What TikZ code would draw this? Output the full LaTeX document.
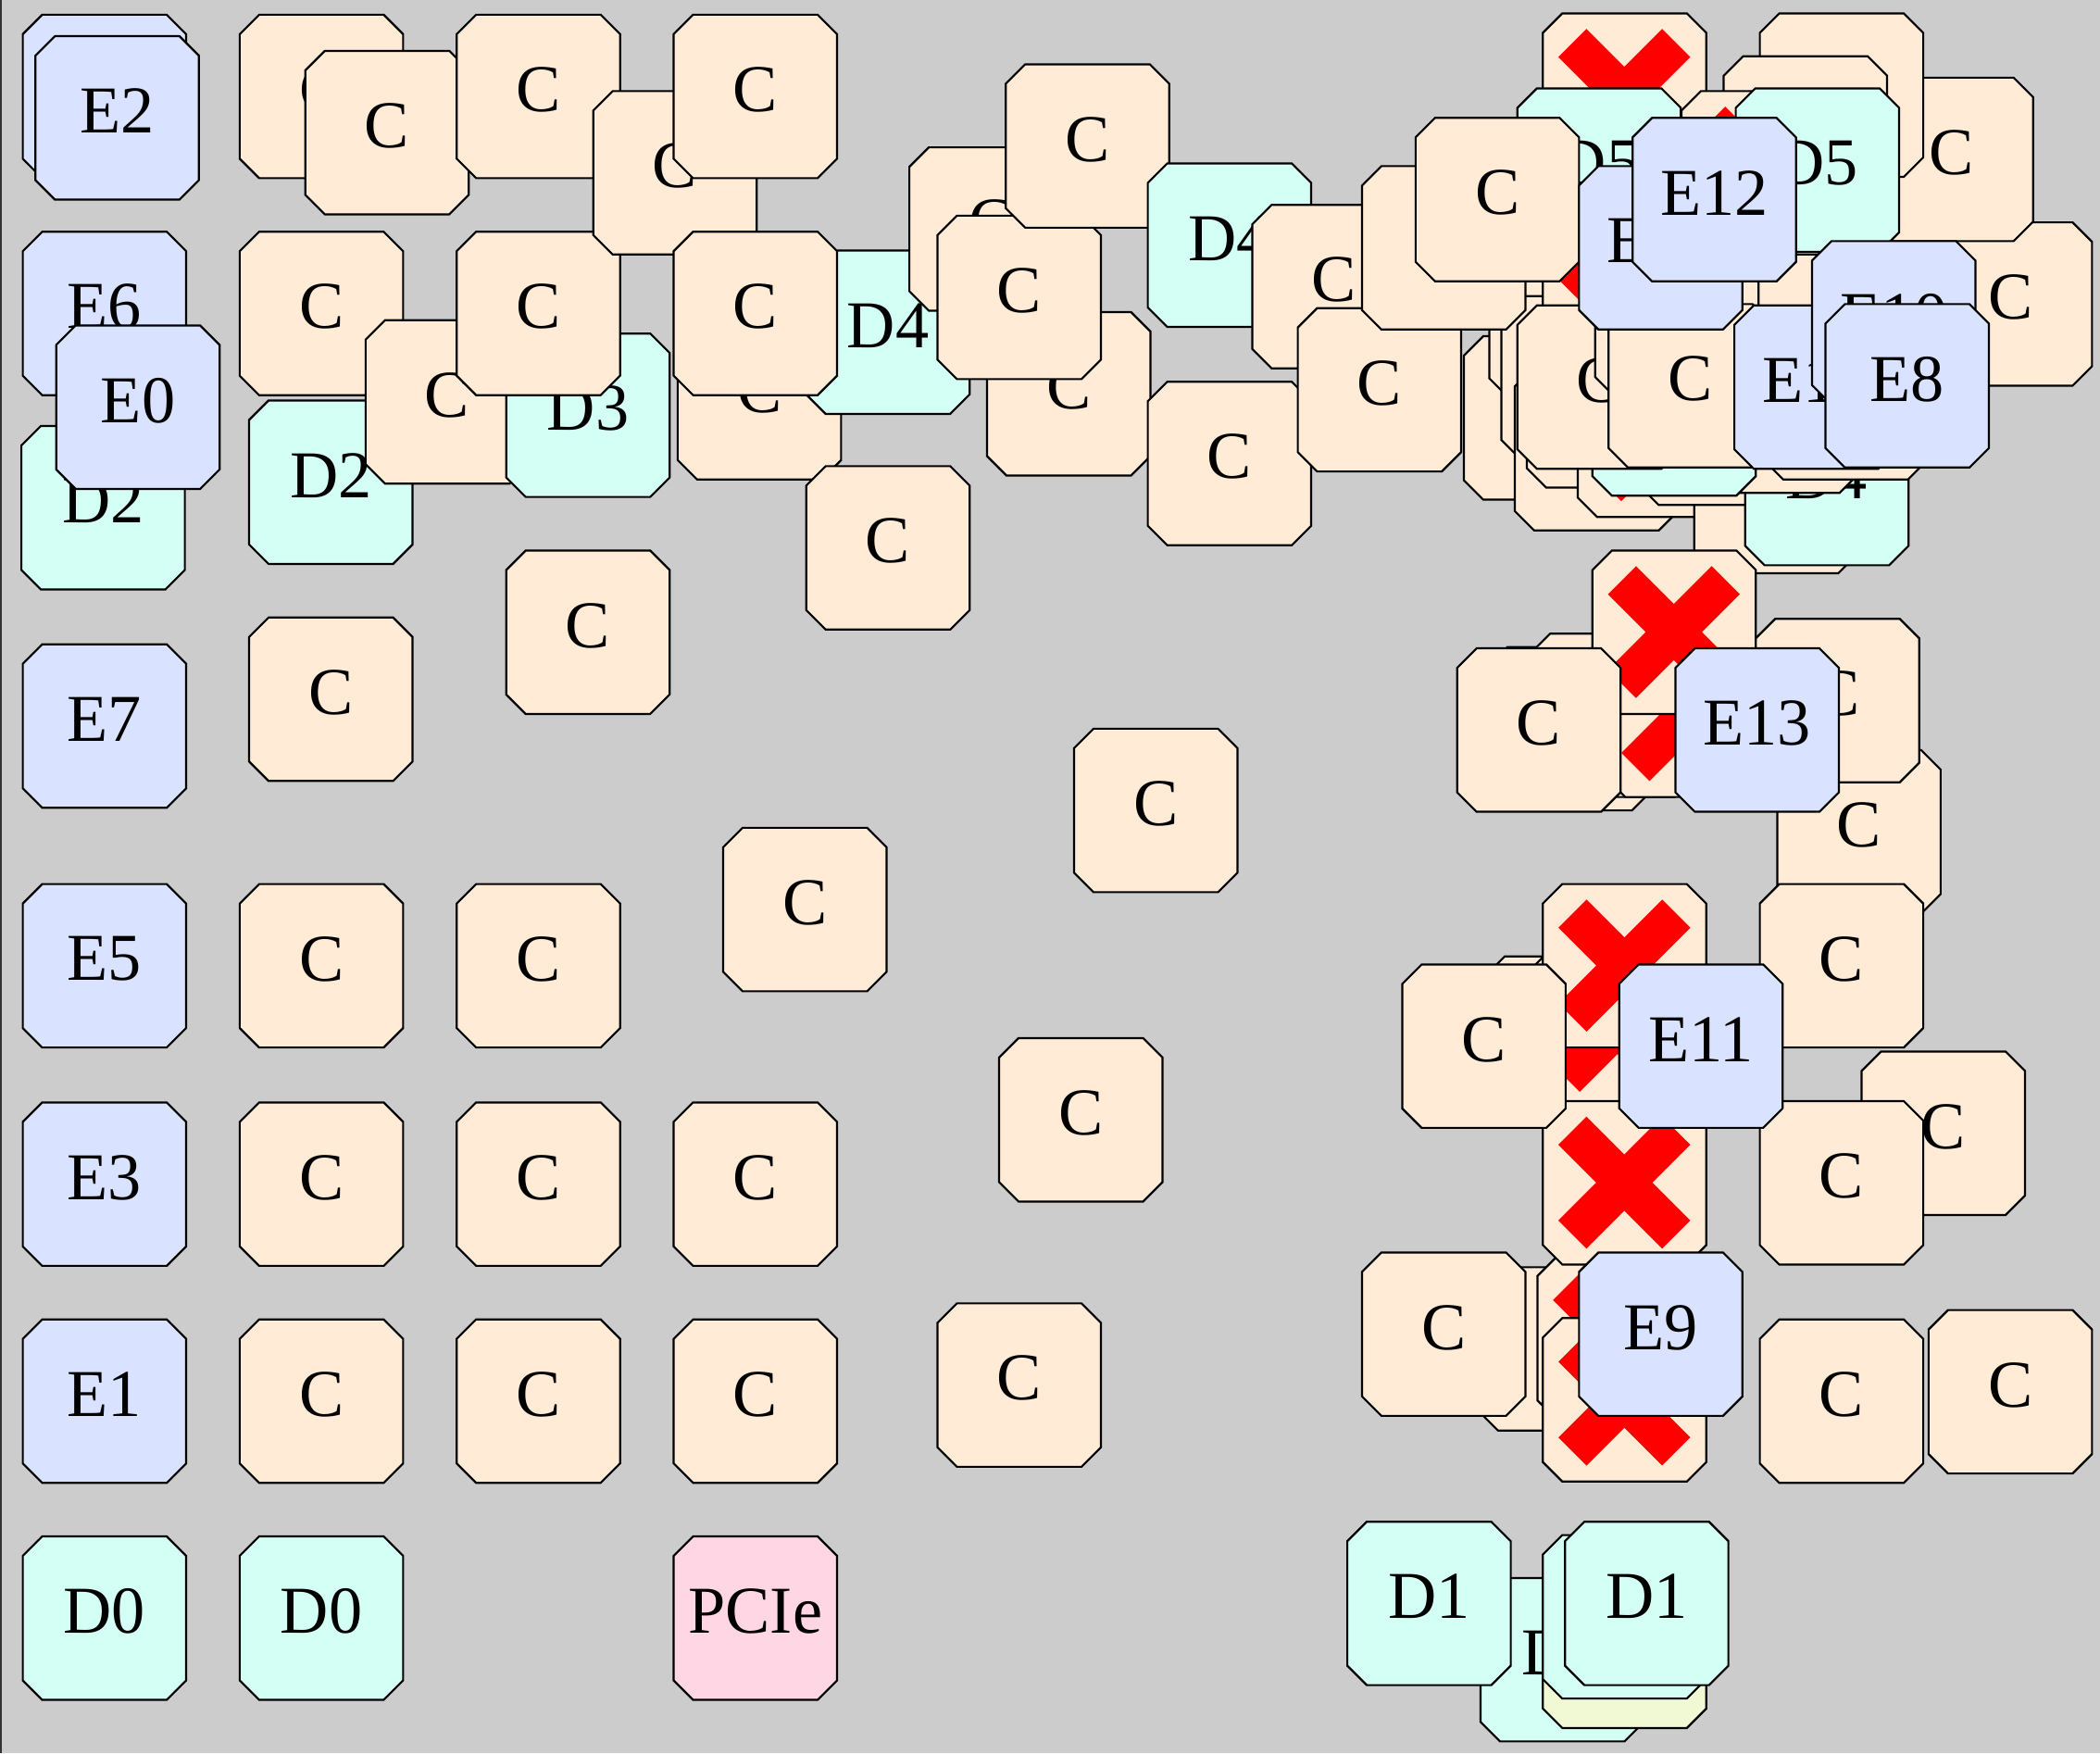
\documentclass[tikz,border=0pt]{standalone}
\usepackage{fontspec}
\setmainfont{Liberation Serif}
\definecolor{bgc}{RGB}{204,204,204}
\definecolor{cbeige}{RGB}{255,235,214}
\definecolor{eblue}{RGB}{217,227,255}
\definecolor{dcyan}{RGB}{212,255,245}
\definecolor{ppink}{RGB}{255,214,228}
\definecolor{yyel}{RGB}{240,248,212}
\tikzset{
  tileline/.style={draw=black, line width=1.5pt},
  cfill/.style={fill=cbeige},
  efill/.style={fill=eblue},
  dfill/.style={fill=dcyan},
  pfill/.style={fill=ppink},
  yfill/.style={fill=yyel},
  lbl/.style={inner sep=0pt, font=\fontsize{50}{60}\selectfont},
  xmark/.style={draw=red, line width=29.7pt},
}
\newcommand\mytile[5]{%
  \begin{scope}[shift={(#2,#3)}]
    \path[tileline,#4] (14.5,0) -- (107.5,0) -- (122,14.5) -- (122,107.5) -- (107.5,122) -- (14.5,122) -- (0,107.5) -- (0,14.5) -- cycle;
    \node[lbl] (#1) at (61,56) {#5};
  \end{scope}}
\newcommand\myxtile[3]{%
  \begin{scope}[shift={(#2,#3)}]
    \path[tileline,cfill] (14.5,0) -- (107.5,0) -- (122,14.5) -- (122,107.5) -- (107.5,122) -- (14.5,122) -- (0,107.5) -- (0,14.5) -- cycle;
    \draw[xmark] (22.1,22.1) -- (99.6,99.6) (99.6,22.1) -- (22.1,99.6);
    \coordinate (#1) at (61,61);
  \end{scope}}
\begin{document}
\begin{tikzpicture}[x=1pt,y=-1pt]
\path[fill=bgc] (0,0) rectangle (1568,1309);
\useasboundingbox (0,0) rectangle (1568,1309);
\draw[line width=1.5pt, black!80] (0.75,0) -- (0.75,1309);
% left column
\mytile{e2b}{17}{11}{efill}{}
\mytile{e2}{26.5}{27}{efill}{E2}
\mytile{e6}{17}{173}{efill}{E6}
\mytile{d2a}{16}{318}{dfill}{D2}
\mytile{e0}{42}{243}{efill}{E0}
\mytile{e7}{17}{481}{efill}{E7}
\mytile{e5}{17}{660}{efill}{E5}
\mytile{e3}{17}{823}{efill}{E3}
\mytile{e1}{17}{985}{efill}{E1}
\mytile{d0a}{17}{1147}{dfill}{D0}
\mytile{d0b}{179}{1147}{dfill}{D0}
% second column
\mytile{c01}{179}{11}{cfill}{C}
\mytile{c02}{228}{38}{cfill}{C}
\mytile{c03}{179}{173}{cfill}{C}
\mytile{d2b}{186}{299}{dfill}{D2}
\mytile{c04}{273}{239}{cfill}{C}
\mytile{d3}{378}{249}{dfill}{D3}
\mytile{c05}{186}{461}{cfill}{C}
\mytile{c06}{179}{660}{cfill}{C}
\mytile{c07}{179}{823}{cfill}{C}
\mytile{c08}{179}{985}{cfill}{C}
% third and fourth columns
\mytile{c09}{341}{11}{cfill}{C}
\mytile{c10}{341}{173}{cfill}{C}
\mytile{c11}{443}{68}{cfill}{C}
\mytile{c12}{503}{11}{cfill}{C}
\mytile{c13}{506}{236}{cfill}{C}
\mytile{d4a}{602}{187}{dfill}{D4}
\mytile{c14}{503}{173}{cfill}{C}
\mytile{c15}{378}{411}{cfill}{C}
\mytile{c16}{341}{660}{cfill}{C}
\mytile{c17}{341}{823}{cfill}{C}
\mytile{c18}{341}{985}{cfill}{C}
\mytile{c19}{602}{348}{cfill}{C}
\mytile{c20}{540}{618}{cfill}{C}
\mytile{c21}{503}{823}{cfill}{C}
\mytile{c22}{503}{985}{cfill}{C}
\mytile{pcie}{503}{1147}{pfill}{PCIe}
\mytile{c23}{802}{544}{cfill}{C}
\mytile{c24}{746}{775}{cfill}{C}
\mytile{c25}{700}{973}{cfill}{C}
% middle top
\mytile{c26}{679}{110}{cfill}{C}
\mytile{c27}{737}{233}{cfill}{C}
\mytile{c28}{700}{161}{cfill}{C}
\mytile{c29}{751}{48}{cfill}{C}
\mytile{d4b}{857}{122}{dfill}{D4}
\mytile{c30}{857}{285}{cfill}{C}
\mytile{c31}{935}{153}{cfill}{C}
\mytile{c32}{969}{230}{cfill}{C}
\mytile{c33}{1093}{251}{cfill}{}
\mytile{c34}{1112}{175}{cfill}{}
\mytile{c35}{1121}{221}{cfill}{}
\myxtile{x1}{1152}{176}
\mytile{c36}{1017}{124}{cfill}{C}
% top right
\mytile{c37}{1440}{166}{cfill}{C}
\mytile{c38}{1396}{58}{cfill}{C}
\mytile{c39}{1314}{10}{cfill}{}
\mytile{c40}{1287}{42}{cfill}{}
\mytile{c41}{1280}{155}{cfill}{}
\myxtile{x2}{1152}{10}
\mytile{d5a}{1133}{66}{dfill}{D5}
\myxtile{x3}{1255.5}{68}
\mytile{d5b}{1296}{66}{dfill}{D5}
\mytile{c42}{1131}{274}{cfill}{}
\mytile{c43}{1140}{242}{cfill}{}
\myxtile{x4}{1178}{264}
\mytile{c44}{1265}{306}{cfill}{}
\mytile{c45}{1224}{255}{cfill}{}
\mytile{d4c}{1303}{300}{dfill}{D4}
\mytile{c46}{1266}{246}{cfill}{}
\mytile{c47}{1317}{236}{cfill}{}
\mytile{d4d}{1189}{248}{dfill}{}
\mytile{c48}{1133}{228}{cfill}{C}
\mytile{c49}{1191}{174}{cfill}{}
\mytile{c50}{1201}{227}{cfill}{C}
\mytile{c51}{1057}{88}{cfill}{C}
\mytile{e15}{1179}{124}{efill}{E15}
\mytile{e12}{1219}{88}{efill}{E12}
\mytile{e14}{1295}{228}{efill}{E14}
\mytile{e10}{1353}{180}{efill}{E10}
\mytile{e8}{1363}{227}{efill}{E8}
% right middle
\mytile{c52}{1111}{483}{cfill}{}
\mytile{c53}{1143}{473}{cfill}{}
\myxtile{x5}{1199}{473}
\myxtile{x6}{1189}{411}
\mytile{c54}{1088}{484}{cfill}{C}
\mytile{c55}{1327}{560}{cfill}{C}
\mytile{c56}{1311}{462}{cfill}{C}
\mytile{e13}{1251}{484}{efill}{E13}
\mytile{c57}{1314}{660}{cfill}{C}
\mytile{c58}{1109}{714}{cfill}{}
\myxtile{x7}{1147}{705}
\myxtile{x8}{1152}{660}
\mytile{c59}{1104}{946}{cfill}{}
\myxtile{x9}{1148}{938}
\myxtile{x10}{1152}{822}
\mytile{c60}{1047}{720}{cfill}{C}
\mytile{c61}{1390}{785}{cfill}{C}
\mytile{c62}{1314}{822}{cfill}{C}
\mytile{e11}{1209}{720}{efill}{E11}
\mytile{c63}{1017}{935}{cfill}{C}
\myxtile{x11}{1152}{984}
\mytile{e9}{1179}{935}{efill}{E9}
\mytile{c64}{1314}{985}{cfill}{C}
\mytile{c65}{1440}{978}{cfill}{C}
% bottom right
\mytile{d1c}{1105.5}{1178}{dfill}{D1}
\mytile{y1}{1152}{1168}{yfill}{}
\mytile{d1d}{1152}{1146}{dfill}{}
\mytile{d1a}{1006}{1136}{dfill}{D1}
\mytile{d1b}{1168.5}{1136}{dfill}{D1}
\end{tikzpicture}
\end{document}
